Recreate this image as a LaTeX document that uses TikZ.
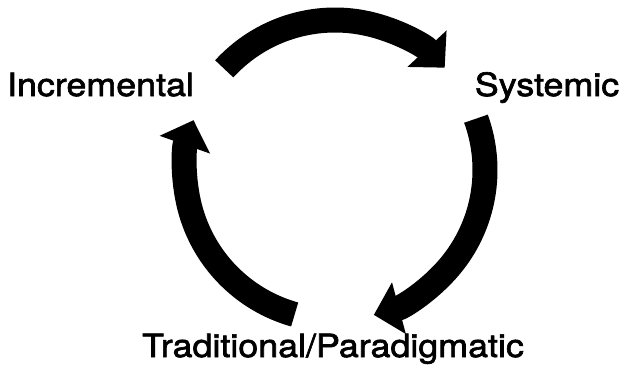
\documentclass[tikz,border=0pt]{standalone}
\usepackage{fontspec}
\newfontfamily\lblfont[FakeStretch=1.12,FakeBold=2]{TeX Gyre Heros}
\usetikzlibrary{arrows.meta}
\tikzset{
  lbl/.style = {anchor=base,inner sep=0pt,font=\lblfont\fontsize{32bp}{36bp}\selectfont},
  cyclearrow/.style = {-{Triangle[length=26bp,width=52bp]},line width=25bp}
}

\begin{document}
\begin{tikzpicture}[x=1bp,y=1bp]
  \useasboundingbox (0,0) rectangle (622,374);
  \coordinate (c) at (335,204);
  \node[lbl] (incr) at (100.5,278) {Incremental};
  \node[lbl] (sys) at (547,278) {Systemic};
  \node[lbl] (trad) at (333,17) {Traditional/Paradigmatic};
  \draw[cyclearrow] (c) ++(137.6:150) arc[start angle=137.6,end angle=43,radius=150];
  \draw[cyclearrow] (c) ++(20:150) arc[start angle=20,end angle=-75,radius=150];
  \draw[cyclearrow] (c) ++(254.4:150) arc[start angle=254.4,end angle=160.6,radius=150];
\end{tikzpicture}
\end{document}
